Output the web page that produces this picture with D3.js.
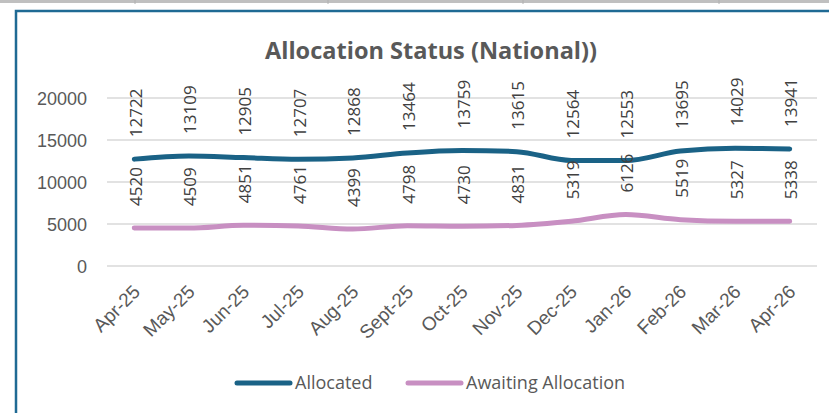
<!DOCTYPE html>
<html lang="en">
<head>
<meta charset="utf-8">
<title>Allocation Status (National)</title>
<script src="https://cdn.jsdelivr.net/npm/d3@7"></script>
<style>
  body { margin: 0; background: #fff; }
  svg { display: block; font-family: "Open Sans", sans-serif; }
  .grid line { stroke: #d9d9d9; stroke-width: 1.5; }
  .axis text { fill: #595959; }
</style>
</head>
<body>
<svg id="chart" width="829" height="413"></svg>
<script>
// data
var months = ["Apr-25", "May-25", "Jun-25", "Jul-25", "Aug-25", "Sept-25", "Oct-25",
              "Nov-25", "Dec-25", "Jan-26", "Feb-26", "Mar-26", "Apr-26"];
var allocated = [12722, 13109, 12905, 12707, 12868, 13464, 13759, 13615, 12564, 12553, 13695, 14029, 13941];
var awaiting  = [4520, 4509, 4851, 4761, 4399, 4798, 4730, 4831, 5319, 6126, 5519, 5327, 5338];
var yTicks = [0, 5000, 10000, 15000, 20000];

var colorAllocated = "#1a6286";
var colorAwaiting = "#c88fc2";

var svg = d3.select("#chart");

// frame bits from the screenshot: grey line at top, blue border top and left
svg.append("line").attr("x1", 0).attr("x2", 829).attr("y1", 1.5).attr("y2", 1.5)
  .attr("stroke", "#c0c0c0").attr("stroke-width", 3);
[135, 328, 523, 719].forEach(function(tx) {
  svg.append("line").attr("x1", tx).attr("x2", tx).attr("y1", 0).attr("y2", 4)
    .attr("stroke", "#b0b0b0").attr("stroke-width", 1);
});
svg.append("path")
  .attr("d", "M16,413 V11 H829")
  .attr("fill", "none").attr("stroke", "#1f6a94").attr("stroke-width", 2.5);

var x = d3.scaleBand().domain(months).range([107, 817]);
var y = d3.scaleLinear().domain([0, 20000]).range([266, 98]);
function px(d, i) { return x(months[i]) + x.bandwidth() / 2; }

// title
svg.append("text")
  .attr("x", 431).attr("y", 59)
  .attr("text-anchor", "middle")
  .attr("textLength", 332).attr("lengthAdjust", "spacingAndGlyphs")
  .style("font-size", "23px").style("font-weight", "bold").style("fill", "#595959")
  .text("Allocation Status (National))");

// gridlines
svg.append("g").attr("class", "grid")
  .selectAll("line").data(yTicks).join("line")
  .attr("x1", 107).attr("x2", 817)
  .attr("y1", function(d) { return y(d); }).attr("y2", function(d) { return y(d); });

// y axis
var yAxis = svg.append("g").attr("class", "axis")
  .attr("transform", "translate(95,0)")
  .call(d3.axisLeft(y).tickValues(yTicks).tickSize(0).tickPadding(8).tickFormat(d3.format("d")));
yAxis.select(".domain").remove();
yAxis.selectAll("text").style("font-size", "18px").attr("dy", "0.35em");

// x axis
var xAxis = svg.append("g").attr("class", "axis")
  .attr("transform", "translate(0,266)")
  .call(d3.axisBottom(x).tickSize(0));
xAxis.select(".domain").remove();
xAxis.selectAll("text")
  .style("font-size", "19px")
  .style("text-anchor", "end")
  .attr("x", 0).attr("y", 0).attr("dy", 0)
  .attr("transform", "translate(7,27) rotate(-45)");

// lines
var line = d3.line()
  .x(px)
  .y(function(d) { return y(d); })
  .curve(d3.curveMonotoneX);

function drawSeries(values, color) {
  svg.append("path")
    .attr("d", line(values))
    .attr("fill", "none")
    .attr("stroke", color)
    .attr("stroke-width", 5)
    .attr("stroke-linecap", "round")
    .attr("stroke-linejoin", "round");

  svg.append("g").selectAll("text").data(values).join("text")
    .attr("transform", function(d, i) {
      return "translate(" + (px(d, i) + 1) + "," + (y(d) - 22) + ") rotate(-90)";
    })
    .attr("dominant-baseline", "central")
    .style("font-size", "17px")
    .style("fill", "#404040")
    .text(function(d) { return d; });
}
drawSeries(allocated, colorAllocated);
drawSeries(awaiting, colorAwaiting);

// legend
var legend = [
  {name: "Allocated", color: colorAllocated, x: 237},
  {name: "Awaiting Allocation", color: colorAwaiting, x: 408}
];
var lg = svg.append("g").selectAll("g").data(legend).join("g")
  .attr("transform", function(d) { return "translate(" + d.x + ",383)"; });
lg.append("line")
  .attr("x1", 0).attr("x2", 53).attr("y1", 0).attr("y2", 0)
  .attr("stroke", function(d) { return d.color; })
  .attr("stroke-width", 5).attr("stroke-linecap", "round");
lg.append("text")
  .attr("x", 58).attr("y", 0).attr("dy", "0.35em")
  .style("font-size", "18px").style("fill", "#595959")
  .text(function(d) { return d.name; });
</script>
</body>
</html>
